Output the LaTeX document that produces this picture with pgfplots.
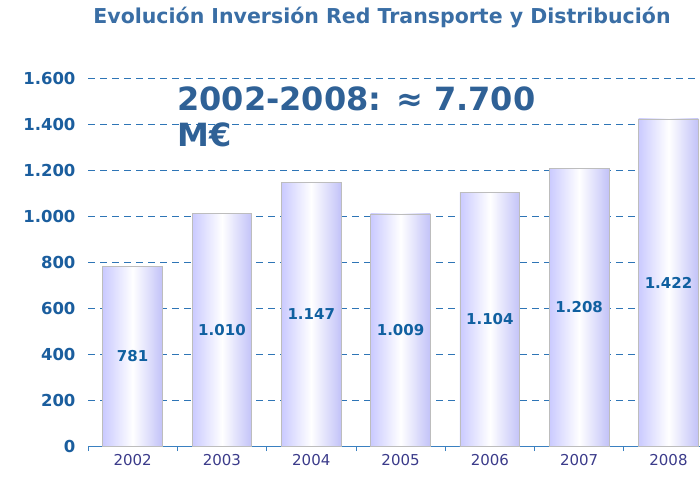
\documentclass[border=0pt]{standalone}
\usepackage{fontspec}
\setmainfont{DejaVu Sans}
\usepackage{pgfplots}
\pgfplotsset{compat=1.18}
\usepackage{pgfplotstable}

\definecolor{gridblue}{HTML}{2E75B6}
\definecolor{axisblue}{HTML}{3A80C0}
\definecolor{ticklab}{HTML}{1B5E9E}
\definecolor{xlab}{HTML}{3B3B8A}
\definecolor{vallab}{HTML}{1060A0}
\definecolor{titleblue}{HTML}{3A6EA5}
\definecolor{bigblue}{HTML}{2F6196}
\definecolor{barL}{HTML}{CACAFF}
\definecolor{barR}{HTML}{C2C2F8}
\definecolor{bardraw}{HTML}{BDBDBD}

\pgfplotstableread{
x v
0 781
1 1010
2 1147
3 1009
4 1104
5 1208
6 1422
}\inv

\begin{document}
\begin{tikzpicture}
\useasboundingbox (-88pt,-30pt) rectangle (612pt,446pt);
\begin{axis}[
    scale only axis, width=612pt, height=368pt,
    at={(0pt,0pt)}, anchor=south west,
    xmin=-0.5, xmax=6.353, ymin=0, ymax=1600,
    axis lines*=left,
    y axis line style={draw=none},
    x axis line style={draw=axisblue, line width=0.8pt},
    xtick={0,...,6}, xticklabels={2002,2003,2004,2005,2006,2007,2008},
    minor xtick={-0.5,0.5,1.5,2.5,3.5,4.5,5.5},
    tick align=outside, major tick length=0pt, minor tick length=5pt,
    minor x tick style={draw=axisblue, line width=0.8pt},
    ytick={0,200,...,1600}, ytick style={draw=none},
    ymajorgrids,
    grid style={draw=gridblue, dash pattern=on 7pt off 5pt, line width=0.8pt},
    /pgf/number format/1000 sep={.},
    /pgf/number format/assume math mode=true,
    yticklabel style={font=\bfseries\fontsize{16.5}{16.5}\selectfont, text=ticklab, xshift=-9pt},
    xticklabel style={font=\fontsize{15}{15}\selectfont, text=xlab, yshift=-5pt},
]
\pgfplotsinvokeforeach{0,...,6}{
\addplot[ybar, bar width=0.67, draw=bardraw, line width=0.8pt,
    left color=barL, right color=barR, middle color=white,
    restrict x to domain=#1:#1]
    table[x=x, y=v] {\inv};
}
\addplot[draw=none, mark=none, nodes near coords, point meta=explicit,
    nodes near coords style={anchor=center, text=vallab,
        font=\bfseries\fontsize{15}{15}\selectfont,
        /pgf/number format/fixed, /pgf/number format/precision=0,
        /pgf/number format/1000 sep={.}}]
    table[x=x, y expr=\thisrow{v}/2, meta=v] {\inv};
\end{axis}
\node[anchor=base, text=titleblue, font=\bfseries\fontsize{20.5}{20.5}\selectfont, inner sep=0pt]
    at (294pt,422pt) {Evolución Inversión Red Transporte y Distribución};
\node[anchor=base west, text=bigblue, font=\bfseries\fontsize{32}{32}\selectfont, inner sep=0pt]
    at (89pt,335pt) {2002-2008: ≈ 7.700};
\node[anchor=base west, text=bigblue, font=\bfseries\fontsize{32}{32}\selectfont, inner sep=0pt]
    at (89pt,299pt) {M€};
\end{tikzpicture}
\end{document}
